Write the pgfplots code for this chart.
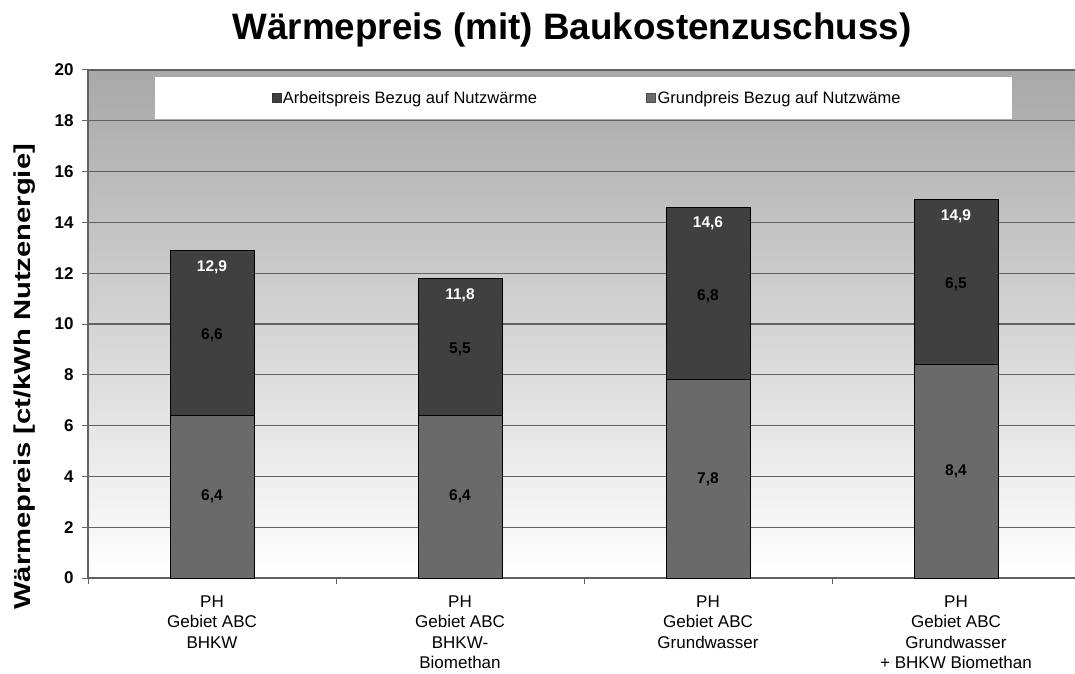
\documentclass[border=0pt]{standalone}
\usepackage{fontspec}
\setmainfont{Liberation Sans}
\usepackage{pgfplots}
\pgfplotsset{compat=1.18}
\usepackage{pgfplotstable}

\definecolor{arbeit}{RGB}{64,64,64}
\definecolor{grund}{RGB}{106,106,106}
\definecolor{bgtop}{RGB}{168,168,168}
\definecolor{gridc}{RGB}{98,98,98}

\pgfplotstableread{
x grund total
0 6.4 12.9
1 6.4 11.8
2 7.8 14.6
3 8.4 14.9
}\bars

\pgfplotstableread{
x y lab
0 3.2 6,4
1 3.2 6,4
2 3.9 7,8
3 4.2 8,4
}\glab

\pgfplotstableread{
x y lab
0 9.55 6,6
1 9.0 5,5
2 11.1 6,8
3 11.55 6,5
}\alab

\pgfplotstableread{
x y lab
0 12.25 12,9
1 11.15 11,8
2 13.95 14,6
3 14.25 14,9
}\tlab

\begin{document}
\begin{tikzpicture}
\useasboundingbox (0,0) rectangle (1075pt,673pt);
\clip (0,0) rectangle (1075pt,673pt);
\node[anchor=base, font=\bfseries\fontsize{36.8}{42}\selectfont] at (572pt,633pt) {Wärmepreis (mit) Baukostenzuschuss)};
\begin{axis}[
  at={(88pt,95pt)}, anchor=south west,
  scale only axis, width=992pt, height=508pt,
  xmin=-0.5, xmax=3.5, ymin=0, ymax=20,
  ytick={0,2,...,20},
  xtick={0,1,2,3},
  xticklabels={PH\\Gebiet ABC\\BHKW, PH\\Gebiet ABC\\BHKW-\\Biomethan, PH\\Gebiet ABC\\Grundwasser, PH\\Gebiet ABC\\Grundwasser\\+ BHKW Biomethan},
  minor xtick={-0.5,0.5,1.5,2.5},
  tick pos=left, tick align=outside,
  major tick length=6pt, minor tick length=6pt,
  major x tick style={draw=none},
  minor x tick style={draw=gridc, line width=1pt},
  y tick style={draw=gridc, line width=1pt},
  ymajorgrids,
  major grid style={draw=gridc, line width=1.3pt},
  axis line style={draw=gridc, line width=1.3pt},
  axis background/.style={top color=bgtop, bottom color=white},
  /pgf/number format/assume math mode=true,
  yticklabel style={font=\bfseries\fontsize{17}{20}\selectfont, xshift=-5pt},
  xticklabel style={align=center, font=\fontsize{17}{20.5}\selectfont, yshift=-8pt},
  ylabel={\scalebox{1.27}[1]{Wärmepreis [ct/kWh Nutzenergie]}},
  ylabel style={at={(axis description cs:-0.0635,0.396)}, anchor=center, font=\bfseries\fontsize{23}{27}\selectfont},
  legend columns=2,
  legend style={at={(axis description cs:0.503,0.945)}, anchor=center, draw=none, fill=none,
    font=\fontsize{16.5}{19}\selectfont, nodes={inner sep=1.5pt},
    /tikz/every even column/.append style={column sep=108pt}},
]
\fill[white] (axis cs:-0.23,18.07) rectangle (axis cs:3.226,19.72);
\addplot[ybar, bar width=84pt, bar shift=0pt, fill=arbeit, draw=black, line width=0.8pt,
  legend image code/.code={\draw[fill=arbeit, draw=black!80, line width=0.6pt] (0pt,-4.5pt) rectangle (9pt,4.5pt);}]
  table[x=x, y=total] {\bars};
\addlegendentry{Arbeitspreis Bezug auf Nutzwärme}
\addplot[ybar, bar width=84pt, bar shift=0pt, fill=grund, draw=black, line width=0.8pt,
  legend image code/.code={\draw[fill=grund, draw=black!70, line width=0.6pt] (0pt,-4.5pt) rectangle (9pt,4.5pt);}]
  table[x=x, y=grund] {\bars};
\addlegendentry{Grundpreis Bezug auf Nutzwäme}
\addplot[draw=none, mark=none, forget plot, nodes near coords, point meta=explicit symbolic,
  every node near coord/.append style={anchor=center, text=black, font=\bfseries\fontsize{15.5}{18}\selectfont}]
  table[x=x, y=y, meta=lab] {\glab};
\addplot[draw=none, mark=none, forget plot, nodes near coords, point meta=explicit symbolic,
  every node near coord/.append style={anchor=center, text=black, font=\bfseries\fontsize{15.5}{18}\selectfont}]
  table[x=x, y=y, meta=lab] {\alab};
\addplot[draw=none, mark=none, forget plot, nodes near coords, point meta=explicit symbolic,
  every node near coord/.append style={anchor=center, text=white, font=\bfseries\fontsize{15.5}{18}\selectfont}]
  table[x=x, y=y, meta=lab] {\tlab};
\end{axis}
\end{tikzpicture}
\end{document}
